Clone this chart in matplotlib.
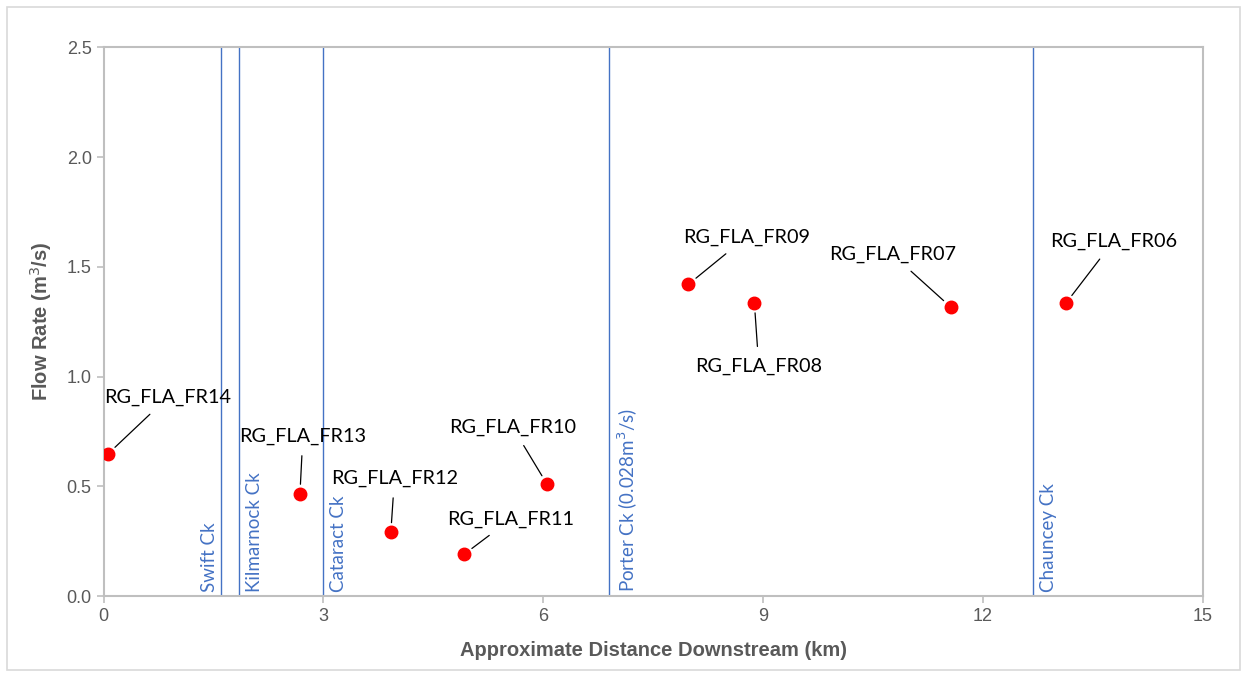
import numpy as np
import matplotlib.pyplot as plt
from matplotlib.patches import Rectangle

# sampling sites
sites = ["RG_FLA_FR14", "RG_FLA_FR13", "RG_FLA_FR12", "RG_FLA_FR11", "RG_FLA_FR10",
         "RG_FLA_FR09", "RG_FLA_FR08", "RG_FLA_FR07", "RG_FLA_FR06"]
distance = [0.06, 2.68, 3.92, 4.92, 6.05, 7.98, 8.88, 11.56, 13.13]
flow = [0.647, 0.465, 0.29, 0.19, 0.51, 1.42, 1.334, 1.316, 1.334]
# where each label sits
label_x = [0.88, 2.72, 3.97, 5.56, 5.58, 8.77, 8.94, 10.76, 13.78]
label_y = [0.906, 0.729, 0.537, 0.351, 0.770, 1.635, 1.047, 1.557, 1.617]

# tributaries
creeks = ["Swift Ck", "Kilmarnock Ck", "Cataract Ck", "Porter Ck (0.028m$^3$/s)", "Chauncey Ck"]
creek_x = [1.60, 1.85, 2.99, 6.89, 12.68]
creek_side = ["left", "right", "right", "right", "right"]

blue = "#4472C4"
gray = "#595959"
axcol = "#BFBFBF"

fig = plt.figure(figsize=(12.47, 6.75), dpi=100)
ax = fig.add_axes([0.083, 0.117, 0.8817, 0.813])

fig.patches.append(Rectangle((7 / 1247, 5 / 675), 1233 / 1247, 663 / 675, transform=fig.transFigure,
                             fill=False, edgecolor="#D9D9D9", linewidth=1.2))

for c, x, side in zip(creeks, creek_x, creek_side):
    ax.axvline(x, color=blue, linewidth=1)
    if side == "left":
        ax.text(x - 0.04, 0.02, c, rotation=90, color=blue, fontsize=13.5, family="Lato",
                ha="right", va="bottom")
    else:
        ax.text(x + 0.1, 0.02, c, rotation=90, color=blue, fontsize=13.5, family="Lato",
                ha="left", va="bottom")

ax.plot(distance, flow, "o", color="red", markersize=9, zorder=5)

for s, x, y, lx, ly in zip(sites, distance, flow, label_x, label_y):
    ax.annotate(s, xy=(x, y), xytext=(lx, ly), ha="center", va="center", fontsize=14.3,
                family="Lato", color="black",
                arrowprops=dict(arrowstyle="-", color="black", linewidth=0.9, shrinkA=6, shrinkB=7))

ax.set_xlim(0, 15)
ax.set_ylim(0, 2.5)
ax.set_xticks([0, 3, 6, 9, 12, 15])
ax.set_yticks(np.arange(0, 2.51, 0.5))
ax.set_yticklabels(["%.1f" % v for v in np.arange(0, 2.51, 0.5)])
for sp in ax.spines.values():
    sp.set_color(axcol)
    sp.set_linewidth(1.5)
ax.tick_params(colors=axcol, labelcolor=gray, labelsize=13, length=5, width=1.2)
for t in ax.get_xticklabels() + ax.get_yticklabels():
    t.set_family("Liberation Sans")

ax.set_xlabel("Approximate Distance Downstream (km)", fontsize=14.5, fontweight="bold",
              color=gray, family="Liberation Sans", labelpad=12)
ax.set_ylabel("Flow Rate (m$^3$/s)", fontsize=14.5, fontweight="bold",
              color=gray, family="Liberation Sans", labelpad=9)

fig.savefig("out.png", dpi=100)
